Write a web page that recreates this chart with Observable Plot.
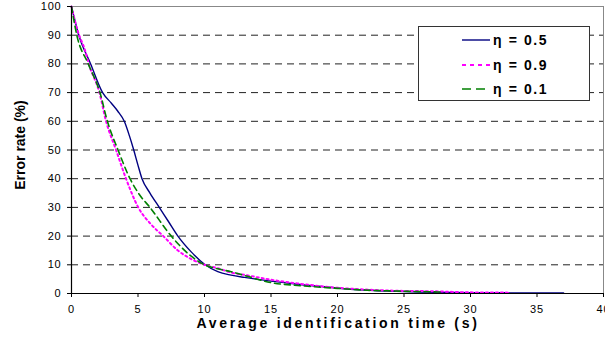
<!DOCTYPE html>
<html>
<head>
<meta charset="utf-8">
<script src="https://cdn.jsdelivr.net/npm/d3@7"></script>
<script src="https://cdn.jsdelivr.net/npm/@observablehq/plot@0.6"></script>
<style>
  body { margin: 0; background: #fff; font-family: "Liberation Sans", Arial, sans-serif; }
  #wrap { position: relative; width: 605px; height: 345px; overflow: hidden; }
  #ytitle { position: absolute; left: 20px; top: 145px; transform: translate(-50%, -50%) rotate(-90deg);
    font-weight: bold; font-size: 14px; white-space: nowrap; color: #000; }
  #xtitle { position: absolute; left: 338px; top: 323px; transform: translate(-50%, -50%);
    font-weight: bold; font-size: 14px; letter-spacing: 2.7px; white-space: nowrap; color: #000; }
  #legend { position: absolute; left: 418px; top: 26px; width: 170px; height: 73px; background: #fff;
    border: 1px solid #333; }
  .row { position: absolute; left: 0; height: 20px; display: flex; align-items: center; }
  .row svg { margin-left: 43px; }
  .row span { margin-left: 3px; font-weight: bold; font-size: 14px; letter-spacing: 1.6px; }
</style>
</head>
<body>
<div id="wrap">
  <div id="chart"></div>
  <div id="ytitle">Error rate (%)</div>
  <div id="xtitle">Average identification time (s)</div>
  <div id="legend"></div>
</div>
<script>
// Series labels and styles
const seriesNames = ["η = 0.5", "η = 0.9", "η = 0.1"];
const seriesColors = ["#000080", "#ff00ff", "#008000"];
const seriesDash = [null, "2,3", "6,4"];
const seriesWidth = [1.4, 2, 1.6];

// η = 0.5 (solid navy)
const t05 = [0, 0.55, 1.44, 2.34, 3, 3.47, 3.97, 4.35, 4.68, 4.98, 5.3, 5.9, 6.6, 7.3, 8, 9, 10, 11, 12, 13, 15, 17, 20, 22, 25, 30, 35, 37];
const v05 = [100, 90, 80, 70, 66.3, 63.6, 60, 55, 50, 45, 40, 35, 30, 25, 20, 14.5, 10.2, 7.6, 6.4, 5.6, 4.3, 3.2, 1.9, 1.2, 0.7, 0.3, 0.2, 0.15];

// η = 0.9 (dotted magenta)
const t09 = [0, 0.5, 1, 1.3, 2.1, 2.6, 3.35, 4.1, 5.02, 6, 6.9, 8, 9, 10, 11, 12, 13, 15, 17, 20, 22, 25, 27, 30, 33];
const v09 = [100, 91, 85, 80, 70, 60, 50, 40, 30, 24, 20, 15, 12, 10, 8.8, 7.3, 6.5, 4.8, 3.5, 2, 1.4, 0.9, 0.8, 0.4, 0.3];

// η = 0.1 (dashed green)
const t01 = [0, 0.4, 1.26, 2.14, 2.7, 3.5, 4.4, 5.1, 5.9, 7.5, 9, 10, 11, 12, 13, 15, 17, 20, 22, 25, 28];
const v01 = [100, 90, 80, 70, 60, 50, 40, 34.5, 30, 20, 13, 10, 8.6, 7.6, 6.3, 3.8, 2.8, 1.8, 1.2, 0.8, 0.5];

// Axis ticks
const xTicks = [0, 5, 10, 15, 20, 25, 30, 35, 40];
const yTicks = [0, 10, 20, 30, 40, 50, 60, 70, 80, 90, 100];
const gridTicks = [10, 20, 30, 40, 50, 60, 70, 80, 90];

const toRows = (ts, vs) => ts.map((t, i) => ({t, v: vs[i]}));
const series = [toRows(t05, v05), toRows(t09, v09), toRows(t01, v01)];

const chart = Plot.plot({
  width: 605,
  height: 345,
  marginLeft: 71,
  marginRight: 2,
  marginTop: 6,
  marginBottom: 52,
  style: {fontFamily: "'Liberation Sans', Arial, sans-serif", fontSize: "11px", color: "#000", background: "#fff", overflow: "visible", letterSpacing: "0.8px"},
  x: {domain: [0, 40]},
  y: {domain: [0, 100]},
  marks: [
    Plot.gridY(gridTicks, {stroke: "#222", strokeOpacity: 1, strokeWidth: 1, strokeDasharray: "7,5"}),
    Plot.ruleY([100], {stroke: "#888", strokeWidth: 1}),
    Plot.ruleX([40], {stroke: "#888", strokeWidth: 1}),
    ...series.map((d, i) => Plot.line(d, {
      x: "t", y: "v", curve: "monotone-x",
      stroke: seriesColors[i], strokeWidth: seriesWidth[i],
      strokeDasharray: seriesDash[i]
    })),
    Plot.axisX({ticks: xTicks, tickSize: 4, tickPadding: 8, fontSize: 11, label: null, stroke: "#000"}),
    Plot.axisY({ticks: yTicks, tickSize: 4, tickPadding: 6, fontSize: 11, label: null, stroke: "#000"}),
    Plot.ruleX([0], {stroke: "#000", strokeWidth: 1.2}),
    Plot.ruleY([0], {stroke: "#000", strokeWidth: 1.2})
  ]
});
document.getElementById("chart").appendChild(chart);

// Legend
const legend = document.getElementById("legend");
seriesNames.forEach((name, i) => {
  const row = document.createElement("div");
  row.className = "row";
  row.style.top = (3 + i * 24.5) + "px";
  const dash = seriesDash[i] ? `stroke-dasharray="${seriesDash[i] === "2,3" ? "4,4" : "9,5"}"` : "";
  row.innerHTML = `<svg width="28" height="6"><line x1="0" x2="28" y1="3" y2="3" stroke="${seriesColors[i]}" stroke-width="${seriesWidth[i]}" ${dash}/></svg><span>${name}</span>`;
  legend.appendChild(row);
});
</script>
</body>
</html>
